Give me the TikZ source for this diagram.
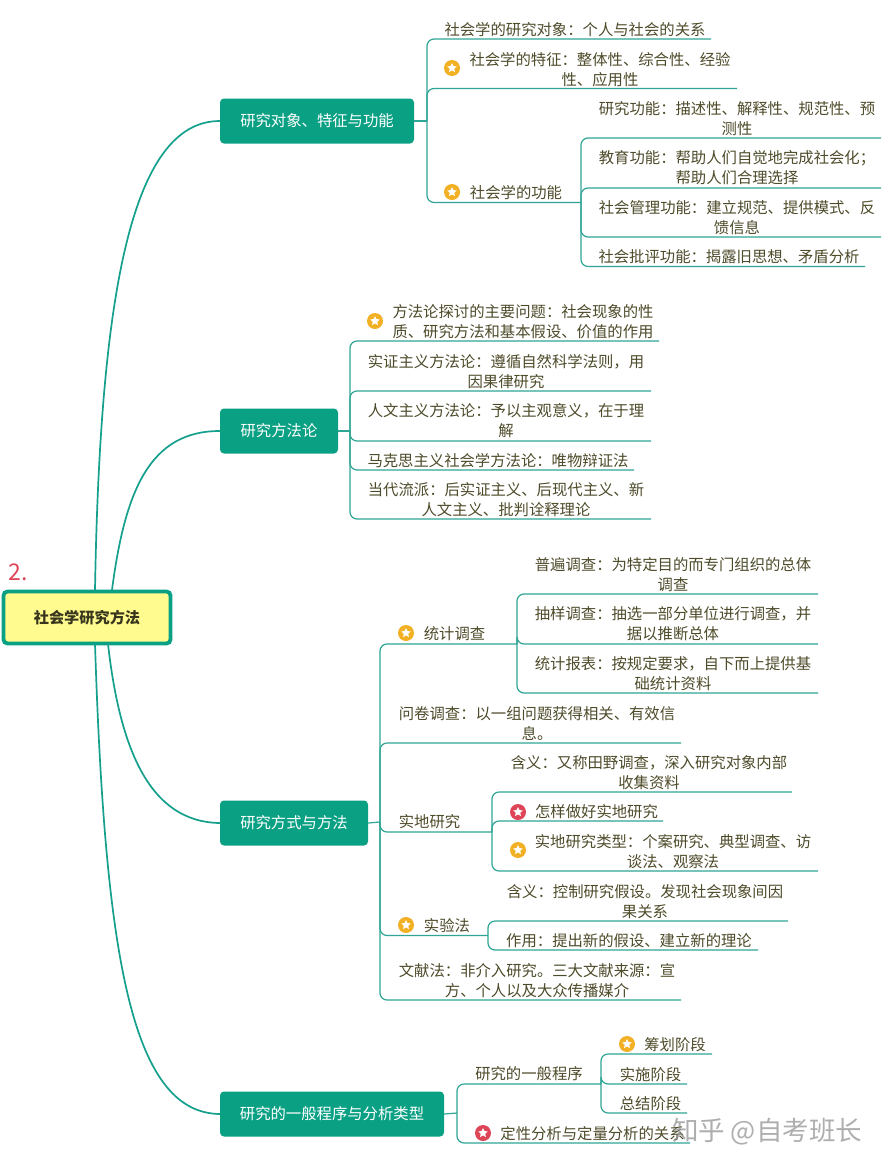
\documentclass[tikz,border=0pt]{standalone}
\usepackage{fontspec}
\setmainfont{Noto Sans CJK SC}
\newfontfamily\cjkf{Noto Sans CJK SC}
\usetikzlibrary{shapes.geometric}
\definecolor{teal1}{HTML}{0AA083}
\definecolor{trunkc}{HTML}{14A08C}
\definecolor{linec}{HTML}{2FA596}
\definecolor{txt}{HTML}{4E4B2A}
\definecolor{rootfill}{HTML}{FFFB8E}
\definecolor{badgeo}{HTML}{F2B125}
\definecolor{badger}{HTML}{DE4658}
\tikzset{
  tx/.style={align=center,inner sep=0pt,text=txt,yshift=-0.8pt,font=\cjkf\fontsize{15.35}{20}\selectfont},
  main/.style={fill=teal1,rounded corners=4pt,text=white,inner sep=0pt,font=\cjkf\fontsize{15.35}{20}\selectfont,minimum height=45pt},
  trunk/.style={draw=trunkc,line width=1.7pt},
  br/.style={draw=linec,line width=1.2pt,rounded corners=7pt},
  badge/.style={circle,fill=#1,minimum size=16pt,inner sep=0pt,
    path picture={\node[star,star points=5,star point ratio=2.1,fill=white,minimum size=10pt,inner sep=0pt] at (path picture bounding box.center) {};}}
}
\begin{document}
\begin{tikzpicture}[x=1pt,y=-1pt]
\useasboundingbox (0,0) rectangle (885,1168);
\fill[white] (0,0) rectangle (885,1168);
% root and main nodes
\node[draw=teal1,line width=3.8pt,fill=rootfill,rounded corners=4pt,minimum width=167pt,minimum height=52pt,inner sep=0pt,text=txt!70!black,font=\cjkf\bfseries\fontsize{15.2}{18}\selectfont] (root) at (87,617.5) {社会学研究方法};
\node[anchor=center,inner sep=0pt,text=badger,font=\cjkf\fontsize{23}{24}\selectfont] (num) at (18,572.5) {2.};
\node[main,minimum width=194pt] (n1) at (317,121) {研究对象、特征与功能};
\node[main,minimum width=118pt] (n2) at (279,431) {研究方法论};
\node[main,minimum width=148pt] (n3) at (294,823) {研究方式与方法};
\node[main,minimum width=224pt] (n4) at (332,1114) {研究的一般程序与分析类型};
% trunk curves
\coordinate (r1) at (95,590);
\coordinate (r2) at (112,590);
\coordinate (r3) at (108,644);
\coordinate (r4) at (95,644);
\draw[trunk] (r1) .. controls (100,300) and (130,121) .. (n1.west);
\draw[trunk] (r2) .. controls (125,490) and (150,431) .. (n2.west);
\draw[trunk] (r3) .. controls (120,750) and (150,822) .. (n3.west);
\draw[trunk] (r4) .. controls (105,950) and (130,1113) .. (n4.west);
% branch 1
\coordinate (b1) at (427,121);
\coordinate (b11) at (581,202.5);
\coordinate (e11) at (711,39);
\coordinate (e12) at (737,88.5);
\coordinate (e111) at (881,138);
\coordinate (e112) at (881,188);
\coordinate (e113) at (881,237);
\coordinate (e114) at (865,266.5);
\draw[br] (n1.east) -- (b1);
\foreach \e in {e11,e12,b11} \draw[br] (\e) -| (b1);
\foreach \e in {e111,e112,e113,e114} \draw[br] (\e) -| (b11);
\node[tx] (t11) at (575,29) {社会学的研究对象：个人与社会的关系};
\node[badge=badgeo] (s12) at (452,68) {};
\node[tx] (t12) at (600,69) {社会学的特征：整体性、综合性、经验\\性、应用性};
\node[badge=badgeo] (s13) at (452,192) {};
\node[tx] (t13) at (516,192) {社会学的功能};
\node[tx] (t111) at (737,118) {研究功能：描述性、解释性、规范性、预\\测性};
\node[tx] (t112) at (737,167) {教育功能：帮助人们自觉地完成社会化；\\帮助人们合理选择};
\node[tx] (t113) at (737,217) {社会管理功能：建立规范、提供模式、反\\馈信息};
\node[tx] (t114) at (729,256) {社会批评功能：揭露旧思想、矛盾分析};
% branch 2
\coordinate (b2) at (350,431);
\coordinate (e21) at (659,341);
\coordinate (e22) at (651,391);
\coordinate (e23) at (651,441);
\coordinate (e24) at (634,470);
\coordinate (e25) at (651,519);
\draw[br] (n2.east) -- (b2);
\foreach \e in {e21,e22,e23,e24,e25} \draw[br] (\e) -| (b2);
\node[badge=badgeo] (s21) at (375,321) {};
\node[tx] (t21) at (523,321) {方法论探讨的主要问题：社会现象的性\\质、研究方法和基本假设、价值的作用};
\node[tx] (t22) at (506,371) {实证主义方法论：遵循自然科学法则，用\\因果律研究};
\node[tx] (t23) at (506,420) {人文主义方法论：予以主观意义，在于理\\解};
\node[tx] (t24) at (498,460) {马克思主义社会学方法论：唯物辩证法};
\node[tx] (t25) at (506,499) {当代流派：后实证主义、后现代主义、新\\人文主义、批判诠释理论};
% branch 3
\coordinate (b3) at (380,822);
\coordinate (b31) at (517,644);
\coordinate (b33) at (492,832);
\coordinate (b34) at (488,935.5);
\coordinate (e32) at (681,743);
\coordinate (e35) at (681,1000);
\coordinate (e311) at (818,594);
\coordinate (e312) at (818,644);
\coordinate (e313) at (818,693);
\coordinate (e331) at (792,792);
\coordinate (e332) at (663,821);
\coordinate (e333) at (818,871);
\coordinate (e341) at (788,921);
\coordinate (e342) at (758,950);
\draw[br] (n3.east) -- (b3);
\foreach \e in {b31,e32,b33,b34,e35} \draw[br] (\e) -| (b3);
\foreach \e in {e311,e312,e313} \draw[br] (\e) -| (b31);
\foreach \e in {e331,e332,e333} \draw[br] (\e) -| (b33);
\foreach \e in {e341,e342} \draw[br] (\e) -| (b34);
\node[badge=badgeo] (s31) at (406,633) {};
\node[tx] (t31) at (454.5,633) {统计调查};
\node[tx] (t311) at (673,574) {普遍调查：为特定目的而专门组织的总体\\调查};
\node[tx] (t312) at (673,623) {抽样调查：抽选一部分单位进行调查，并\\据以推断总体};
\node[tx] (t313) at (673,673) {统计报表：按规定要求，自下而上提供基\\础统计资料};
\node[tx] (t32) at (537,723) {问卷调查：以一组问题获得相关、有效信\\息。};
\node[tx] (t33) at (429.5,821) {实地研究};
\node[tx] (t331) at (649,772) {含义：又称田野调查，深入研究对象内部\\收集资料};
\node[badge=badger] (s332) at (518,812) {};
\node[tx] (t332) at (596.5,811) {怎样做好实地研究};
\node[badge=badgeo] (s333) at (518,850) {};
\node[tx] (t333) at (673,851) {实地研究类型：个案研究、典型调查、访\\谈法、观察法};
\node[badge=badgeo] (s34) at (406,925) {};
\node[tx] (t34) at (447,925) {实验法};
\node[tx] (t341) at (645,901) {含义：控制研究假设。发现社会现象间因\\果关系};
\node[tx] (t342) at (629,940) {作用：提出新的假设、建立新的理论};
\node[tx] (t35) at (537,980) {文献法：非介入研究。三大文献来源：宣\\方、个人以及大众传播媒介};
% branch 4
\coordinate (b4) at (457,1113);
\coordinate (b41) at (601,1084);
\coordinate (e42) at (690,1143);
\coordinate (e411) at (712,1054);
\coordinate (e412) at (687,1084);
\coordinate (e413) at (687,1113);
\draw[br] (n4.east) -- (b4);
\foreach \e in {b41,e42} \draw[br] (\e) -| (b4);
\foreach \e in {e411,e412,e413} \draw[br] (\e) -| (b41);
\node[tx] (t41) at (529,1073) {研究的一般程序};
\node[badge=badgeo] (s411) at (627,1044) {};
\node[tx] (t411) at (675,1044) {筹划阶段};
\node[tx] (t412) at (650.5,1074) {实施阶段};
\node[tx] (t413) at (650.5,1103) {总结阶段};
\node[badge=badger] (s42) at (483,1133) {};
\node[tx] (t42) at (592.5,1133) {定性分析与定量分析的关系};
% watermark
\node[inner sep=0pt,text=black!45,opacity=.7,font=\cjkf\fontsize{26.5}{28}\selectfont] (wm) at (767,1131.5) {知乎 @自考班长};
\end{tikzpicture}
\end{document}
